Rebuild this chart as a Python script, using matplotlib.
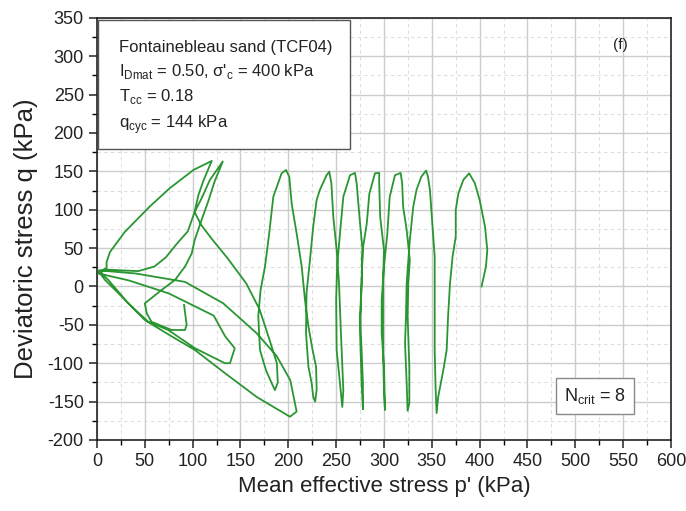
import matplotlib
matplotlib.use("Agg")
import matplotlib.pyplot as plt
from matplotlib.patches import Rectangle
from matplotlib.ticker import MultipleLocator

plt.rcParams['font.family'] = ['Liberation Sans', 'DejaVu Sans']
plt.rcParams['axes.unicode_minus'] = False

# stress path p' - q (kPa), in test order
p_path = [402, 406.6, 408, 405.6, 400, 395, 389,
          383, 377.7, 375, 375, 371.7, 369, 367, 365.5, 362, 356.7, 355,
          354, 353, 353, 353, 350, 348, 346, 344,
          339, 334, 330.6, 327, 325.5, 323.7, 323, 322, 323.7, 324.7,
          326.5, 326.5, 324.7, 325.4, 327, 323.7, 320, 319, 317.4,
          311.5, 306, 303.5, 300, 297.6, 297.6, 300, 301,
          300, 299, 299, 300, 296, 295, 295,
          290.6, 284.7, 282, 277.7, 276.6, 275, 276.6, 278, 278,
          276.6, 275, 276.6, 277.6, 275, 271.4, 269.7,
          264.5, 257.5, 254, 251, 250, 250.5, 254, 256.4,
          257.5, 255, 253, 250.5, 247, 245, 242.8,
          240, 233, 229.6, 226, 222.6, 219, 218.5, 221, 224.4, 226, 228,
          229.6, 229, 225.4, 221, 217.4, 214, 208.7, 203.5, 201, 197.6,
          193, 184.3, 180, 175.6, 171, 168.6, 170.4, 176.6, 182.6, 186,
          189, 188, 181, 170, 156, 137, 120, 109, 102,
          106, 111, 116, 120,
          101, 76, 55, 29, 13.6, 10, 10, 5, 1.4,
          8.4, 25.8, 50, 78, 102.4, 133.8, 167, 201.7,
          208.7, 202, 188, 167, 132, 92, 40, 1.4,
          11.8, 32.7, 53.6, 74.5, 102.4, 120, 133.8, 139,
          144, 134, 122, 75, 33, 1.4,
          10, 18.8, 43, 60, 72, 83, 95, 102, 109.4, 118, 131.5,
          123, 116, 108, 102, 99, 92, 81.5, 67.6, 50, 52, 57, 78, 92, 93.7, 91]
q_path = [0, 26, 47.6, 78, 112.7, 134.5, 147.5,
          139, 121, 99.7, 65, 39, 4, -39, -83, -109, -143.6, -165,
          -135, -83, 4, 39, 91, 126, 143, 151,
          143, 126, 104, 60.6, 34.5, 4, -39, -74, -126, -162,
          -152, -104.5, -39, 4, 34.5, 73.6, 104, 134.5, 148,
          145, 117, 69, 26, -17.6, -61, -104.5, -161,
          -135, -83, 4, 47.6, 91, 134.5, 148,
          147.5, 121, 82, 47.6, 4, -39, -83, -126, -160,
          -126, -61, 4, 47.6, 82, 134.5, 148,
          145, 117, 69, 26, -17.6, -83, -126, -157,
          -135, -61, 4, 47.6, 91, 134.5, 149.6,
          145, 126, 112.7, 78, 34.5, -9, -61, -104.5, -126, -143.6, -150,
          -135, -104.5, -83, -52, -17.6, 26, 69, 108, 143, 151.8,
          147.5, 117, 69, 26, -4.5, -39, -83, -109, -126, -135,
          -125, -100, -72, -30, 4, 36, 62, 80, 97,
          119, 137, 152, 163.6,
          152, 128, 104, 71, 45, 32, 24, 21, 20,
          8.5, -13, -43.7, -65, -82.8, -113, -144, -169.7,
          -163, -122, -91, -61, -22, 6, 17, 21,
          8.5, -22, -46, -56.7, -80.5, -91.5, -100, -100,
          -80.5, -65, -38, -9, 8, 17,
          22, 21.5, 20, 26, 38, 55, 72, 97, 115, 138.8, 163,
          137, 110, 82, 60, 43, 26, 8.5, -4.5, -22, -35, -46, -56.7, -56.7, -50, -24]

x_ticks = list(range(0, 601, 50))
y_ticks = list(range(-200, 351, 50))

info_lines = ['Fontainebleau sand (TCF04)',
              'I$_\\mathregular{Dmat}$ = 0.50, σ\'$_\\mathregular{c}$ = 400 kPa',
              'T$_\\mathregular{cc}$ = 0.18',
              'q$_\\mathregular{cyc}$ = 144 kPa']
info_y = [0.920, 0.862, 0.802, 0.738]

fig = plt.figure(figsize=(6.86, 5.11), dpi=100)
ax = fig.add_axes([0.1414, 0.139, 0.8367, 0.826])

ax.plot(p_path, q_path, color='#2a9632', lw=1.3, zorder=3)

ax.set_xlim(0, 600)
ax.set_ylim(-200, 350)
ax.set_xticks(x_ticks)
ax.set_yticks(y_ticks)
ax.xaxis.set_minor_locator(MultipleLocator(25))
ax.yaxis.set_minor_locator(MultipleLocator(25))
ax.grid(which='major', color='#cccccc', lw=1.0, zorder=0)
ax.grid(which='minor', color='#dddddd', lw=0.8, ls=(0, (3, 3)), zorder=0)
ax.set_axisbelow(True)
ax.tick_params(which='major', direction='out', length=6, width=1.1,
               labelsize=13, colors='#222222', top=False, right=False)
ax.tick_params(which='minor', direction='out', length=3.5, width=1.0,
               top=False, right=False)
for s in ax.spines.values():
    s.set_linewidth(1.2)
    s.set_color('#222222')

ax.set_xlabel("Mean effective stress p' (kPa)", fontsize=16, color='#222222')
ax.set_ylabel("Deviatoric stress q (kPa)", fontsize=18.5, color='#222222')
ax.xaxis.set_label_coords(0.501, -0.085)
ax.yaxis.set_label_coords(-0.103, 0.478)

# info box top left
ax.add_patch(Rectangle((0.002, 0.69), 0.439, 0.305, transform=ax.transAxes,
                       facecolor='white', edgecolor='#555555', lw=1.0, zorder=5))
for txt, yy in zip(info_lines, info_y):
    ax.text(0.038, yy, txt, transform=ax.transAxes, fontsize=12,
            color='#222222', va='baseline', ha='left', zorder=6)

ax.text(0.911, 0.936, '(f)', transform=ax.transAxes, fontsize=11,
        color='#222222', ha='center', va='center')

ax.text(0.868, 0.104, 'N$_\\mathregular{crit}$ = 8', transform=ax.transAxes,
        fontsize=13, color='#222222', ha='center', va='center', zorder=6,
        bbox=dict(boxstyle='square,pad=0.45', facecolor='white',
                  edgecolor='#888888', lw=1.0))

fig.savefig('out.png', dpi=100)
